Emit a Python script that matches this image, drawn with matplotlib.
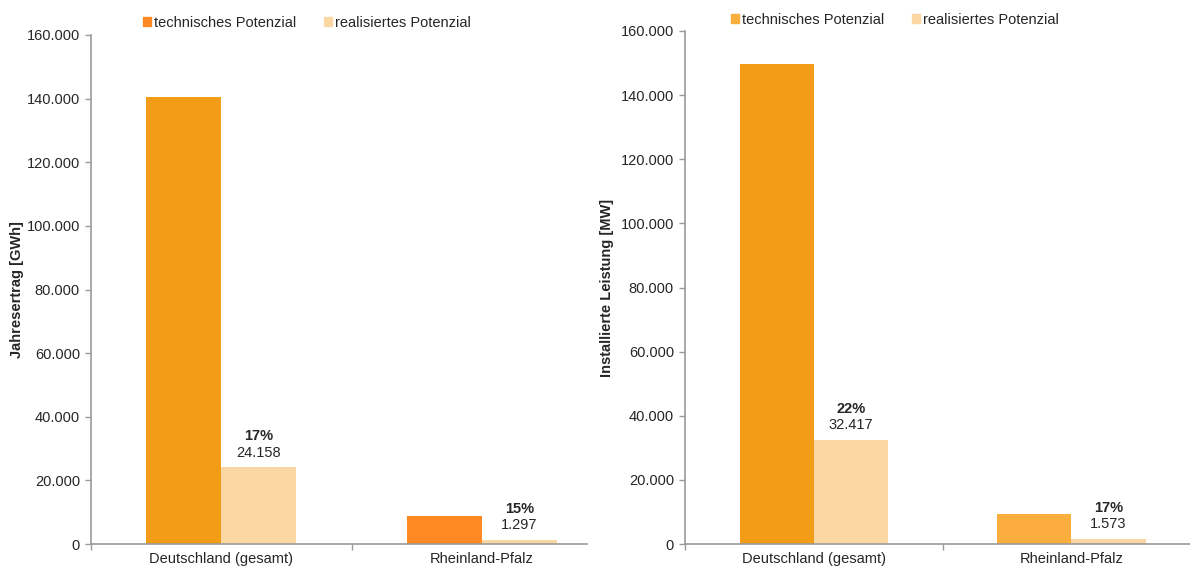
import matplotlib
matplotlib.use('Agg')
import matplotlib.pyplot as plt
from matplotlib.patches import Patch
from matplotlib.ticker import FuncFormatter

plt.rcParams['font.family'] = ['Liberation Sans', 'DejaVu Sans']

# data
categories = ['Deutschland (gesamt)', 'Rheinland-Pfalz']
series_names = ['technisches Potenzial', 'realisiertes Potenzial']

ertrag_tech = [140500, 8800]
ertrag_real = [24158, 1297]
ertrag_pct = ['17%', '15%']

leistung_tech = [149800, 9300]
leistung_real = [32417, 1573]
leistung_pct = ['22%', '17%']

yticks = [0, 20000, 40000, 60000, 80000, 100000, 120000, 140000, 160000]

TEXT = '#262626'
AXIS = '#9a9a9a'
REAL = '#FAD7A3'
FS = 10.5


def fmt_de(v, pos=None):
    return f'{int(v):,}'.replace(',', '.')


def draw_panel(ax, tech, real, pct, tech_colors, ylabel, xmax):
    x = list(range(len(categories)))
    w = 0.288
    ax.bar([i - w / 2 for i in x], tech, width=w, color=tech_colors, linewidth=0)
    bars = ax.bar([i + w / 2 for i in x], real, width=w, color=REAL, linewidth=0)
    for b, v, p in zip(bars, real, pct):
        cx = b.get_x() + b.get_width() / 2
        ax.annotate(fmt_de(v), (cx, v), xytext=(0, 10.5), textcoords='offset points',
                    ha='center', va='center', fontsize=FS, color=TEXT)
        ax.annotate(p, (cx, v), xytext=(0, 22.5), textcoords='offset points',
                    ha='center', va='center', fontsize=FS, color=TEXT, fontweight='bold')
    ax.set_yticks(yticks)
    ax.yaxis.set_major_formatter(FuncFormatter(fmt_de))
    ax.set_xticks([-0.5, 0.5, 1.5])
    ax.set_xticklabels([])
    ax.set_xticks(x, minor=True)
    ax.set_xticklabels(categories, minor=True)
    # limits after ticks, otherwise set_xticks widens the view
    ax.set_ylim(0, 160000)
    ax.set_xlim(-0.5, xmax)
    ax.tick_params(axis='x', which='minor', length=0, pad=6, labelsize=FS, labelcolor=TEXT)
    ax.tick_params(axis='x', which='major', length=4, width=1, color=AXIS)
    ax.tick_params(axis='y', length=4, width=1, color=AXIS, labelsize=FS, labelcolor=TEXT, pad=4)
    for s in ['top', 'right']:
        ax.spines[s].set_visible(False)
    for s in ['left', 'bottom']:
        ax.spines[s].set_color(AXIS)
        ax.spines[s].set_linewidth(1.2)
    ax.set_ylabel(ylabel, fontsize=FS, fontweight='bold', color=TEXT)


fig = plt.figure(figsize=(11.9, 5.68), dpi=100)
ax1 = fig.add_axes([91 / 1190, 24 / 568, (587 - 91) / 1190, (544 - 35) / 568])
ax2 = fig.add_axes([685 / 1190, 24 / 568, (1190 - 685) / 1190, (544 - 31) / 568])

draw_panel(ax1, ertrag_tech, ertrag_real, ertrag_pct, ['#F39C17', '#FF8A24'],
           'Jahresertrag [GWh]', 1.404)
draw_panel(ax2, leistung_tech, leistung_real, leistung_pct, ['#F39C17', '#FBAD3D'],
           'Installierte Leistung [MW]', 1.46)
ax1.yaxis.set_label_coords(-0.135, 0.5)
ax2.yaxis.set_label_coords(-0.141, 0.5)

for c, xc, yc in [('#FF8A24', 307 / 1190, 1 - 23 / 568), ('#FBAD3D', 895 / 1190, 1 - 20 / 568)]:
    handles = [Patch(color=c), Patch(color=REAL)]
    fig.legend(handles, series_names, loc='center', bbox_to_anchor=(xc, yc), ncol=2,
               frameon=False, fontsize=FS, handlelength=0.55, handleheight=0.55,
               handletextpad=0.2, columnspacing=1.9, labelcolor=TEXT)

fig.savefig('out.png', dpi=100)
